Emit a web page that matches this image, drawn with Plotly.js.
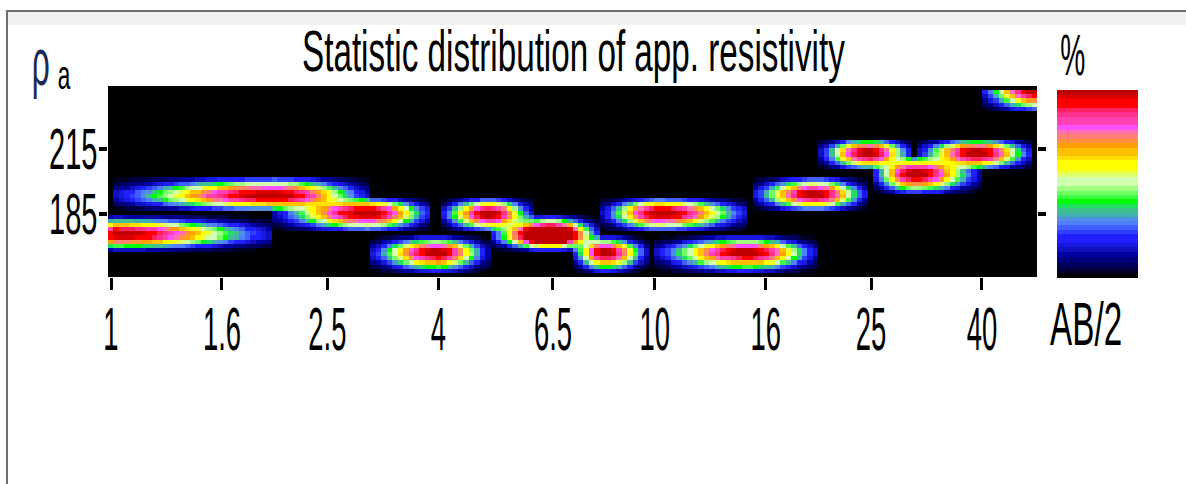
<!DOCTYPE html>
<html><head><meta charset="utf-8">
<script src="https://cdn.plot.ly/plotly-3.0.1.min.js"></script>
<style>
html,body{margin:0;padding:0;background:#fff;width:1186px;height:484px;overflow:hidden}
#topline{position:absolute;left:6px;top:10px;width:1180px;height:2px;background:#6e6e6e}
#band{position:absolute;left:8px;top:12px;width:1178px;height:13px;background:#f0f0f0}
#leftline{position:absolute;left:6px;top:10px;width:2px;height:474px;background:#6e6e6e}
#chart{position:absolute;left:0;top:0;width:1186px;height:484px}
</style></head><body>
<div id="topline"></div><div id="band"></div><div id="leftline"></div>
<div id="chart"></div>
<script>
// ---- axis ticks ----
const abTicks = [1, 1.6, 2.5, 4, 6.5, 10, 16, 25, 40];
const abTickText = ['1', '1.6', '2.5', '4', '6.5', '10', '16', '25', '40'];
const rhoTicks = [185, 215];
const rhoTickText = ['185', '215'];

// ---- distribution blobs (AB/2, rho_a) ----
const abCenter  = [1.0,  2.0,  2.97, 3.98, 4.98, 6.45, 8.10, 10.23, 14.84, 19.72, 24.68, 30.12, 39.33, 50.3];
const abMin     = [0.995,1.0,  2.0,  2.99, 4.03, 5.04, 7.05, 8.0,   10.01, 15.1,  20.14, 25.0,  30.38, 39.82];
const abMax     = [2.0,  2.99, 3.91, 4.94, 5.95, 7.87, 9.72, 14.97, 19.97, 24.68, 29.87, 39.66, 49.63, 52.0];
const rhoCenter = [175.3,193.3,185.5,167.0,185.0,174.9,167.0,185.5, 167.0, 193.8, 213.2, 203.5, 213.2, 242.2];
const rhoMin    = [167.9,185.9,176.2,157.8,176.2,167.9,157.8,176.2, 157.8, 185.9, 204.8, 193.8, 204.8, 232.1];
const rhoMax    = [183.6,202.1,192.4,174.4,192.4,183.6,174.4,192.4, 174.4, 202.1, 220.1, 212.2, 220.1, 242.7];
const peak      = [1.0,  1.0,  1.0,  1.0,  1.0,  1.4,  1.0,  1.0,   1.0,   1.0,   1.0,   1.0,   1.0,   1.0];

// ---- colour bands of the % scale (bottom to top) ----
const bandEdges = [0,0.02,0.036,0.059,0.085,0.112,0.139,0.165,0.188,0.233,0.254,0.281,0.304,0.325,0.348,0.375,0.396,0.419,0.44,0.464,0.49,0.535,0.556,0.577,0.627,0.648,0.693,0.719,0.742,0.764,0.787,0.813,0.858,0.885,0.906,0.95,0.973,1];
const bandColors = ['#000000','#000020','#000040','#000060','#000080','#0000a0','#1010c0','#1818e0','#2020ff','#3040ff','#4060ff','#5080ff','#5090e0','#40b0b0','#40c090','#20e060','#00ff00','#40ff40','#70ff60','#a0ff80','#d0ffb0','#e0ff70','#f0ff30','#ffff00','#ffe000','#ffc000','#ffa000','#ff9040','#ff8070','#ff70b0','#ff50ff','#ff40b0','#ff3090','#ff2060','#ff0000','#dc0000','#c00000'];

const abRangeLog = [-0.00552, 1.70325];
const rhoRange = [155.6, 244.2];
const nx = 170, ny = 46, K = 2.0, P = 2.5;

const xEdges = [], yEdges = [];
for (let i = 0; i <= nx; i++) xEdges.push(Math.pow(10, abRangeLog[0] + i * (abRangeLog[1] - abRangeLog[0]) / nx));
for (let j = 0; j <= ny; j++) yEdges.push(rhoRange[0] + j * (rhoRange[1] - rhoRange[0]) / ny);

const z = [];
for (let j = 0; j < ny; j++) {
  const ry = (yEdges[j] + yEdges[j + 1]) / 2;
  const row = [];
  for (let i = 0; i < nx; i++) {
    const lx = (Math.log10(xEdges[i]) + Math.log10(xEdges[i + 1])) / 2;
    let rest = 1;
    for (let b = 0; b < abCenter.length; b++) {
      const l0 = Math.log10(abMin[b]), l1 = Math.log10(abMax[b]), lc = Math.log10(abCenter[b]);
      if (lx < l0 || lx > l1 || ry < rhoMin[b] || ry > rhoMax[b]) continue;
      const dx = lx - lc, dy = ry - rhoCenter[b];
      const wx = dx < 0 ? lc - l0 : l1 - lc;
      const wy = dy < 0 ? rhoCenter[b] - rhoMin[b] : rhoMax[b] - rhoCenter[b];
      const u = wx > 0 ? dx / wx : 0, w = wy > 0 ? dy / wy : 0;
      const r = Math.sqrt(u * u + w * w);
      const v = Math.min(1, peak[b] * Math.exp(-K * Math.pow(r, P)));
      rest *= (1 - v);
    }
    row.push(1 - rest);
  }
  z.push(row);
}

const colorscale = [];
bandColors.forEach((c, k) => { colorscale.push([bandEdges[k], c]); colorscale.push([bandEdges[k + 1], c]); });

const FONT = 'Liberation Sans, Arial, sans-serif';
const trace = {
  type: 'heatmap', x: xEdges, y: yEdges, z: z, zmin: 0, zmax: 1, zsmooth: false,
  colorscale: colorscale, hoverinfo: 'skip',
  colorbar: {
    x: (1057 - 108) / 929, xanchor: 'left', xref: 'paper',
    y: (277 - 90) / 191, yanchor: 'top', yref: 'paper',
    thickness: 81, thicknessmode: 'pixels', len: 188, lenmode: 'pixels',
    xpad: 0, ypad: 0, outlinewidth: 0, ticks: '', showticklabels: false
  }
};

const layout = {
  width: 1186, height: 484,
  margin: {l: 108, r: 149, t: 86, b: 207, pad: 0},
  paper_bgcolor: 'rgba(0,0,0,0)', plot_bgcolor: '#000',
  font: {family: FONT, color: '#000'},
  title: {text: 'Statistic distribution of app. resistivity', font: {size: 58, family: FONT, color: '#000'},
          x: 0.501, xref: 'paper', xanchor: 'center', y: 1 - 50.5 / 484, yref: 'container', yanchor: 'middle'},
  xaxis: {type: 'log', range: abRangeLog, tickvals: abTicks, ticktext: abTickText, tickmode: 'array',
          ticks: 'outside', ticklen: 12, tickwidth: 3, tickcolor: '#000', tickfont: {size: 61, family: FONT, color: '#000'},
          ticklabelstandoff: -13,
          showgrid: false, zeroline: false, showline: false, automargin: false, fixedrange: true},
  yaxis: {range: rhoRange, tickvals: rhoTicks, ticktext: rhoTickText, tickmode: 'array',
          ticks: 'outside', ticklen: 8, tickwidth: 4, tickcolor: '#000', tickfont: {size: 58, family: FONT, color: '#000'},
          ticklabelstandoff: -10,
          mirror: 'ticks', showgrid: false, zeroline: false, showline: false, automargin: false, fixedrange: true},
  annotations: [
    {text: 'ρ', xref: 'paper', yref: 'paper', x: (41 - 108) / 929, y: 1.125, xanchor: 'center', yanchor: 'middle', showarrow: false, font: {size: 66, family: FONT, color: '#1b2a55'}},
    {text: 'a', xref: 'paper', yref: 'paper', x: (64.5 - 108) / 929, y: 1.057, xanchor: 'center', yanchor: 'middle', showarrow: false, font: {size: 40, family: FONT, color: '#000'}},
    {text: '%', xref: 'paper', yref: 'paper', x: (1072.5 - 108) / 929, y: 1.165, xanchor: 'center', yanchor: 'middle', showarrow: false, font: {size: 58, family: FONT, color: '#000'}},
    {text: 'AB/2', xref: 'paper', yref: 'paper', x: (1086 - 108) / 929, y: -0.2455, xanchor: 'center', yanchor: 'middle', showarrow: false, font: {size: 61, family: FONT, color: '#000'}}
  ]
};

// horizontal condensing of the tall, narrow lettering
const annWidths = [18, 13, 25, 72];
function squeeze(el, sx) {
  const ax = parseFloat(el.getAttribute('x')) || 0;
  const tr = el.getAttribute('transform') || '';
  el.setAttribute('transform', tr + ' translate(' + ax + ',0) scale(' + sx + ',1) translate(' + (-ax) + ',0)');
}
function condense(gd) {
  gd.querySelectorAll('.xtick text').forEach(t => squeeze(t, 0.45));
  gd.querySelectorAll('.ytick text').forEach(t => squeeze(t, 0.5));
  const tt = gd.querySelector('.gtitle');
  if (tt) squeeze(tt, 543 / tt.getBBox().width);
  gd.querySelectorAll('.annotation').forEach(g => {
    const k = +g.getAttribute('data-index');
    const t = g.querySelector('text');
    if (t && annWidths[k]) squeeze(t, annWidths[k] / t.getBBox().width);
  });
}

Plotly.newPlot('chart', [trace], layout, {staticPlot: true, displayModeBar: false}).then(condense);
</script></body></html>
